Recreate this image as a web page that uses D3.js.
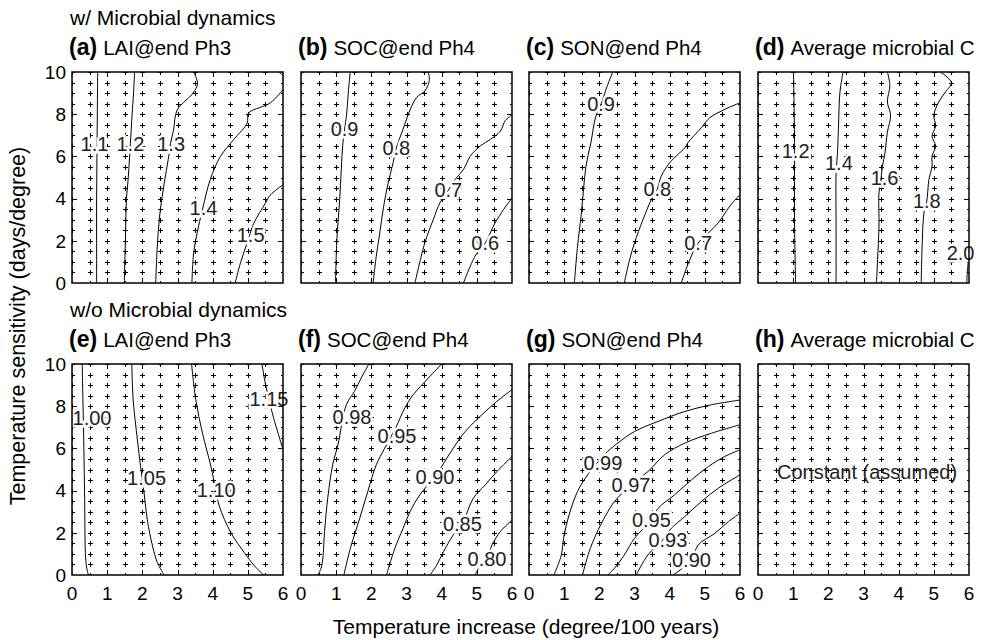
<!DOCTYPE html>
<html>
<head>
<meta charset="utf-8">
<script src="https://cdn.jsdelivr.net/npm/d3@7"></script>
<style>
  body { margin: 0; background: #fff; }
  text { font-family: 'Liberation Sans', Arial, sans-serif; fill: #000; }
</style>
</head>
<body>
<svg id="chart" width="983" height="640"></svg>
<script>
// Panel text
const rowTitles = ["w/ Microbial dynamics", "w/o Microbial dynamics"];
const panelLetters = ["(a)", "(b)", "(c)", "(d)", "(e)", "(f)", "(g)", "(h)"];
const panelNames = ["LAI@end Ph3", "SOC@end Ph4", "SON@end Ph4", "Average microbial C",
                    "LAI@end Ph3", "SOC@end Ph4", "SON@end Ph4", "Average microbial C"];

// Axes
const xTicks = [0, 1, 2, 3, 4, 5, 6];
const yTicks = [0, 2, 4, 6, 8, 10];
const gridX = [0, 0.5, 1, 1.5, 2, 2.5, 3, 3.5, 4, 4.5, 5, 5.5, 6];
const gridY = [0, 0.5, 1, 1.5, 2, 2.5, 3, 3.5, 4, 4.5, 5, 5.5, 6, 6.5, 7, 7.5, 8, 8.5, 9, 9.5, 10];

// Contour lines: [temperature increase, temperature sensitivity]
const contoursA = [
  { level: "1.1", label: [0.64, 6.6], pts: [[0.73, 10], [0.72, 8], [0.71, 6], [0.7, 4], [0.7, 2], [0.7, 0]] },
  { level: "1.2", label: [1.66, 6.6], pts: [[1.78, 10], [1.75, 9], [1.71, 8], [1.66, 6.6], [1.6, 5], [1.55, 4], [1.53, 3], [1.52, 2], [1.5, 1], [1.49, 0]] },
  { level: "1.3", label: [2.82, 6.6], pts: [[3.46, 10], [3.57, 9.45], [3.44, 9.0], [2.99, 8.2], [2.89, 7.27], [2.8, 6.6], [2.75, 6.0], [2.61, 4.6], [2.49, 3.16], [2.42, 1.58], [2.38, 0]] },
  { level: "1.4", label: [3.74, 3.55], pts: [[3.41, 0], [3.46, 1.42], [3.6, 2.7], [3.72, 3.55], [3.93, 4.9], [4.22, 6.0], [4.6, 6.8], [4.98, 7.58], [5.0, 7.98], [5.06, 8.12], [5.64, 8.54], [6, 9.17]] },
  { level: "1.5", label: [5.08, 2.3], pts: [[4.64, 0], [4.79, 0.95], [5.0, 2.0], [5.17, 2.83], [5.5, 3.78], [5.64, 4.17], [6, 4.65]] },
  { level: "", label: null, pts: [[5.88, 10], [5.95, 9.9], [6, 9.82]] }
];
const contoursB = [
  { level: "0.9", label: [1.24, 7.3], pts: [[1.4, 10], [1.36, 9.33], [1.29, 7.9], [1.24, 7.3], [1.19, 6.6], [1.1, 3.96], [1.02, 2.06], [0.98, 0]] },
  { level: "0.8", label: [2.71, 6.4], pts: [[3.62, 10], [3.65, 9.6], [3.52, 9.1], [3.29, 8.8], [3.1, 8.2], [2.9, 7.28], [2.71, 6.4], [2.62, 5.7], [2.48, 4.75], [2.35, 3.64], [2.24, 2.37], [2.14, 1.27], [2.05, 0]] },
  { level: "0.7", label: [4.19, 4.4], pts: [[6, 7.97], [5.81, 7.7], [5.67, 7.2], [5.38, 6.8], [5.1, 6.5], [4.81, 6.0], [4.62, 5.38], [4.38, 4.9], [4.19, 4.4], [3.95, 3.8], [3.76, 3.0], [3.52, 1.9], [3.24, 0]] },
  { level: "0.6", label: [5.24, 1.9], pts: [[6, 4.03], [5.76, 3.48], [5.52, 2.85], [5.24, 1.9], [4.95, 1.27], [4.62, 0]] }
];
const contoursC = [
  { level: "0.9", label: [2.05, 8.47], pts: [[2.38, 10], [2.19, 9.18], [2.05, 8.47], [1.9, 7.9], [1.76, 6.65], [1.62, 5.54], [1.55, 4.43], [1.48, 3.16], [1.38, 1.74], [1.29, 0]] },
  { level: "0.8", label: [3.65, 4.46], pts: [[6, 8.54], [5.57, 8.23], [5.14, 7.83], [4.9, 7.36], [4.52, 6.65], [4.43, 6.4], [4.24, 6.1], [4.0, 5.7], [3.76, 5.06], [3.65, 4.46], [3.48, 3.96], [3.24, 3.0], [3.0, 1.9], [2.86, 1.1], [2.71, 0]] },
  { level: "0.7", label: [4.81, 1.9], pts: [[6, 4.19], [5.71, 3.64], [5.38, 2.85], [5.1, 2.37], [4.81, 1.9], [4.57, 1.1], [4.33, 0]] }
];
const contoursD = [
  { level: "1.2", label: [1.07, 6.25], pts: [[1.01, 10], [1.03, 8], [1.04, 6.65], [1.04, 5.85], [1.04, 2.69], [1.07, 0]] },
  { level: "1.4", label: [2.3, 5.7], pts: [[2.42, 10], [2.33, 9.05], [2.29, 7.44], [2.26, 6.17], [2.24, 5.7], [2.22, 5.22], [2.22, 2.69], [2.22, 0]] },
  { level: "1.6", label: [3.6, 4.98], pts: [[3.68, 10], [3.75, 9.37], [3.68, 8.58], [3.77, 7.95], [3.68, 7.15], [3.61, 6.17], [3.54, 5.54], [3.5, 4.98], [3.44, 4.27], [3.44, 2.69], [3.4, 1.1], [3.37, 0]] },
  { level: "1.8", label: [4.8, 3.88], pts: [[5.19, 10], [5.5, 9.5], [5.33, 9.05], [5.14, 8.58], [5.0, 7.95], [5.05, 7.44], [4.95, 6.96], [5.05, 6.49], [4.95, 6.01], [4.95, 5.54], [4.86, 4.9], [4.8, 3.88], [4.72, 3.32], [4.67, 1.9], [4.64, 0]] },
  { level: "2.0", label: [5.76, 1.45], pts: [[5.98, 1.0], [5.95, 0.5], [5.94, 0]] }
];
const contoursE = [
  { level: "1.00", label: [0.57, 7.45], pts: [[0.29, 10], [0.31, 8.3], [0.33, 6.72], [0.36, 3.57], [0.38, 1.06], [0.41, 0.43], [0.45, 0.1], [0.47, 0]] },
  { level: "1.05", label: [2.12, 4.6], pts: [[1.7, 10], [1.74, 8.3], [1.86, 6.4], [1.95, 5.15], [2.05, 3.89], [2.14, 2.63], [2.29, 1.37], [2.43, 0.58], [2.62, 0]] },
  { level: "1.10", label: [4.1, 4.05], pts: [[3.4, 10], [3.52, 8.3], [3.71, 6.72], [3.95, 5.15], [4.08, 4.1], [4.19, 3.26], [4.52, 2.0], [4.9, 1.06], [5.19, 0.43], [5.45, 0]] },
  { level: "1.15", label: [5.6, 8.33], pts: [[5.4, 10], [5.5, 9.05], [5.6, 8.33], [5.73, 7.46], [6, 5.95]] }
];
const contoursF = [
  { level: "0.98", label: [1.45, 7.5], pts: [[1.93, 10], [1.71, 9.33], [1.52, 8.7], [1.29, 8.07], [1.05, 6.17], [0.9, 5.22], [0.76, 3.64], [0.67, 2.06], [0.62, 0.79], [0.57, 0.32], [0.48, 0]] },
  { level: "0.95", label: [2.73, 6.61], pts: [[4.0, 10], [3.62, 9.33], [3.19, 8.54], [2.95, 7.91], [2.7, 7.0], [2.38, 6.01], [2.14, 5.22], [1.9, 3.96], [1.67, 2.69], [1.43, 1.42], [1.33, 0.79], [1.22, 0]] },
  { level: "0.90", label: [3.81, 4.67], pts: [[6, 8.78], [5.57, 8.23], [5.14, 7.59], [4.67, 6.8], [4.33, 6.01], [3.81, 4.67], [3.38, 3.8], [3.1, 3.0], [2.9, 2.2], [2.67, 1.27], [2.43, 0]] },
  { level: "0.85", label: [4.59, 2.45], pts: [[6, 5.62], [5.57, 4.9], [5.24, 4.27], [4.9, 3.64], [4.59, 2.45], [4.33, 1.9], [4.05, 1.1], [3.86, 0.47], [3.67, 0]] },
  { level: "0.80", label: [5.29, 0.79], pts: [[6, 2.61], [5.67, 2.06], [5.43, 1.42], [5.29, 0.79], [5.05, 0.32], [4.95, 0]] }
];
const contoursG = [
  { level: "0.99", label: [2.1, 5.3], pts: [[6, 8.29], [5.19, 8.07], [4.43, 7.75], [3.67, 7.28], [3.0, 6.8], [2.52, 6.25], [2.14, 5.7], [1.67, 4.75], [1.38, 3.96], [1.14, 2.85], [1.0, 1.9], [0.92, 0.95], [0.86, 0.63], [0.71, 0]] },
  { level: "0.97", label: [2.9, 4.27], pts: [[6, 7.12], [5.19, 6.72], [4.43, 6.25], [3.86, 5.7], [3.38, 4.9], [2.9, 4.27], [2.43, 3.48], [2.19, 2.85], [1.9, 1.9], [1.71, 1.1], [1.52, 0]] },
  { level: "0.95", label: [3.48, 2.61], pts: [[6, 5.93], [5.57, 5.62], [5.1, 5.14], [4.62, 4.51], [4.14, 3.8], [3.67, 3.16], [3.48, 2.61], [3.0, 1.74], [2.71, 0.95], [2.43, 0.32], [2.24, 0]] },
  { level: "0.93", label: [3.95, 1.66], pts: [[6, 4.75], [5.38, 4.11], [4.9, 3.48], [4.43, 2.77], [4.05, 2.22], [3.8, 1.66], [3.38, 0.95], [3.05, 0]] },
  { level: "0.90", label: [4.62, 0.71], pts: [[6, 2.93], [5.67, 2.53], [5.29, 1.98], [4.81, 1.42], [4.62, 0.71], [4.1, 0]] }
];
const contoursH = [];
const noteH = "Constant (assumed)";
const noteHAt = [3.1, 4.9];

const panelContours = [contoursA, contoursB, contoursC, contoursD, contoursE, contoursF, contoursG, contoursH];

// Layout
const svg = d3.select("#chart");
const size = 211;
const colLeft = [72, 301, 529, 758];
const rowTop = [72, 364];

const x = d3.scaleLinear().domain([0, 6]).range([0, size]);
const y = d3.scaleLinear().domain([0, 10]).range([size, 0]);
const line = d3.line().x(d => x(d[0])).y(d => y(d[1])).curve(d3.curveCatmullRom.alpha(0.5));
const snap = v => Math.round(v) + 0.5;

svg.append("defs").append("clipPath").attr("id", "box")
  .append("rect").attr("width", size).attr("height", size);

// Row headings
rowTitles.forEach((t, r) => {
  svg.append("text")
    .attr("x", colLeft[0] - 2)
    .attr("y", rowTop[r] - 47)
    .style("font-size", "21px")
    .text(t);
});

panelContours.forEach((contours, i) => {
  const row = Math.floor(i / 4), col = i % 4;
  const g = svg.append("g").attr("transform", `translate(${colLeft[col]},${rowTop[row]})`);

  // title
  const title = g.append("text").attr("x", -3).attr("y", -17);
  title.append("tspan").style("font-weight", "bold").style("font-size", "23px").text(panelLetters[i]);
  title.append("tspan").style("font-size", "20.5px").attr("dx", 6).text(panelNames[i]);

  const inner = g.append("g").attr("clip-path", "url(#box)");

  // contour lines
  inner.selectAll("path.contour")
    .data(contours)
    .join("path")
    .attr("class", "contour")
    .attr("d", d => line(d.pts))
    .attr("fill", "none")
    .attr("stroke", "#000")
    .attr("stroke-width", 1);

  const labelled = contours.filter(d => d.label);

  // white halo breaks the line under each label
  g.selectAll("text.halo")
    .data(labelled)
    .join("text")
    .attr("class", "halo")
    .attr("x", d => x(d.label[0]))
    .attr("y", d => y(d.label[1]))
    .attr("dy", "0.36em")
    .attr("text-anchor", "middle")
    .style("font-size", "20px")
    .style("fill", "#fff")
    .attr("stroke", "#fff")
    .attr("stroke-width", 5)
    .text(d => d.level);

  // sample points
  const pts = [];
  gridX.forEach(gx => gridY.forEach(gy => pts.push([gx, gy])));
  inner.selectAll("path.plus")
    .data(pts)
    .join("path")
    .attr("class", "plus")
    .attr("transform", d => `translate(${snap(x(d[0]))},${snap(y(d[1]))})`)
    .attr("d", "M-2.5,0H2.5M0,-2.5V2.5")
    .attr("stroke", "#000")
    .attr("stroke-width", 1);

  g.selectAll("text.clab")
    .data(labelled)
    .join("text")
    .attr("class", "clab")
    .attr("x", d => x(d.label[0]))
    .attr("y", d => y(d.label[1]))
    .attr("dy", "0.36em")
    .attr("text-anchor", "middle")
    .style("font-size", "20px")
    .style("fill", "#222")
    .text(d => d.level);

  if (i === 7) {
    g.append("text")
      .attr("x", x(noteHAt[0]))
      .attr("y", y(noteHAt[1]))
      .attr("dy", "0.36em")
      .attr("text-anchor", "middle")
      .style("font-size", "20px")
      .style("fill", "#222")
      .text(noteH);
  }

  // inward ticks on all four sides
  const tl = 5;
  const tickG = g.append("g").attr("stroke", "#000").attr("stroke-width", 1);
  xTicks.slice(1, -1).forEach(t => {
    tickG.append("line").attr("x1", snap(x(t))).attr("x2", snap(x(t))).attr("y1", size).attr("y2", size - tl);
    tickG.append("line").attr("x1", snap(x(t))).attr("x2", snap(x(t))).attr("y1", 0).attr("y2", tl);
  });
  yTicks.slice(1, -1).forEach(t => {
    tickG.append("line").attr("y1", snap(y(t))).attr("y2", snap(y(t))).attr("x1", 0).attr("x2", tl);
    tickG.append("line").attr("y1", snap(y(t))).attr("y2", snap(y(t))).attr("x1", size).attr("x2", size - tl);
  });

  g.append("rect")
    .attr("width", size).attr("height", size)
    .attr("fill", "none").attr("stroke", "#000").attr("stroke-width", 1.5);

  if (col === 0) {
    g.selectAll("text.ytick")
      .data(yTicks)
      .join("text")
      .attr("class", "ytick")
      .attr("x", -6)
      .attr("y", d => y(d))
      .attr("dy", "0.36em")
      .attr("text-anchor", "end")
      .style("font-size", "19px")
      .text(d => d);
  }
  if (row === 1) {
    g.selectAll("text.xtick")
      .data(xTicks)
      .join("text")
      .attr("class", "xtick")
      .attr("x", d => x(d))
      .attr("y", size + 25)
      .attr("text-anchor", "middle")
      .style("font-size", "19px")
      .text(d => d);
  }
});

// Axis titles
svg.append("text")
  .attr("x", 526)
  .attr("y", 634)
  .attr("text-anchor", "middle")
  .style("font-size", "21px")
  .text("Temperature increase (degree/100 years)");

svg.append("text")
  .attr("transform", "translate(25,326) rotate(-90)")
  .attr("text-anchor", "middle")
  .style("font-size", "21.5px")
  .text("Temperature sensitivity (days/degree)");
</script>
</body>
</html>
